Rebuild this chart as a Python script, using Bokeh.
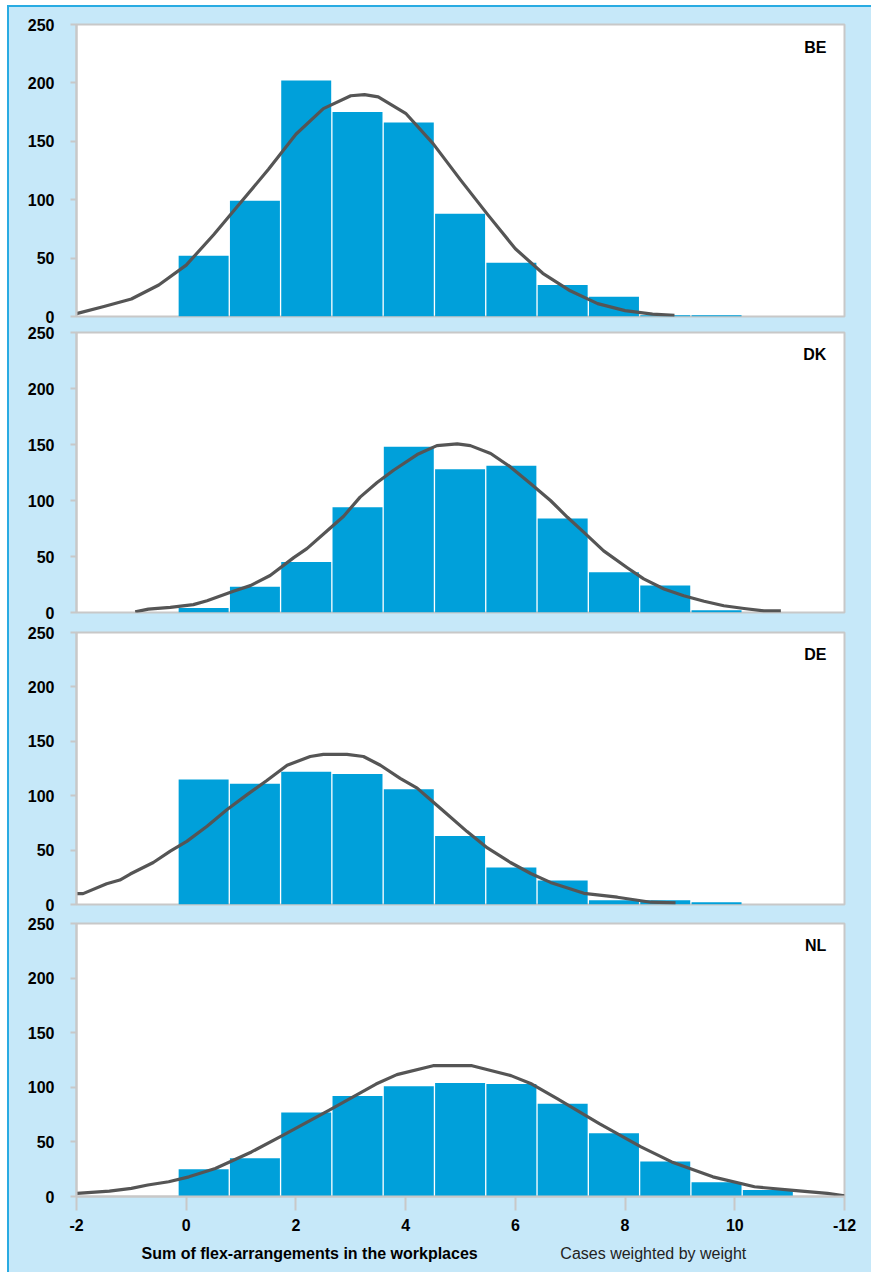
from bokeh.plotting import figure
from bokeh.layouts import column
from bokeh.models import FixedTicker, Label, Range1d
from bokeh.core.properties import value
from bokeh.embed import file_html
from bokeh.resources import INLINE

# ---------------- data ----------------
countries = ["BE", "DK", "DE", "NL"]

bin_start = -0.15
bin_width = 0.935

be_counts = [52, 99, 202, 175, 166, 88, 46, 27, 17, 1, 1]
dk_counts = [4, 23, 45, 94, 148, 128, 131, 84, 36, 24, 2]
de_counts = [115, 111, 122, 120, 106, 63, 34, 22, 4, 4, 2]
nl_counts = [25, 35, 77, 92, 101, 104, 103, 85, 58, 32, 13, 6]

be_curve_x = [-2.0, -1.5, -1.0, -0.5, 0.0, 0.5, 1.0, 1.5, 2.0, 2.5, 3.0, 3.25, 3.5,
              4.0, 4.5, 5.0, 5.5, 6.0, 6.5, 7.0, 7.5, 8.0, 8.5, 8.9]
be_curve_y = [2.5, 8.5, 15, 27, 44, 70, 98, 126, 156, 178, 189, 190, 188,
              174, 148, 117, 87, 58, 37, 22, 11, 5, 2, 1]

dk_curve_x = [-0.93, -0.69, -0.29, 0.13, 0.38, 0.86, 1.17, 1.53, 1.96, 2.2, 2.57, 2.87,
              3.17, 3.48, 3.78, 4.21, 4.57, 4.94, 5.18, 5.55, 5.91, 6.28, 6.64, 6.95,
              7.25, 7.61, 8.04, 8.34, 8.71, 9.07, 9.44, 9.8, 10.17, 10.53, 10.84]
dk_curve_y = [0.6, 3, 4.5, 7, 10.5, 19, 24, 33, 49, 57, 73, 86,
              103, 116, 127, 141, 149, 150.5, 149, 142, 130, 115, 100, 85,
              71.5, 55, 40, 30, 21, 15, 10, 6, 3.6, 1.5, 1.5]

de_curve_x = [-2.0, -1.88, -1.45, -1.21, -1.02, -0.6, -0.29, 0.01, 0.38, 0.74, 1.11,
              1.47, 1.84, 2.26, 2.5, 2.93, 3.23, 3.54, 3.9, 4.21, 4.39, 4.69, 5.12,
              5.49, 5.91, 6.28, 6.64, 7.25, 7.86, 8.47, 8.92]
de_curve_y = [10, 10, 19, 22.5, 28, 38.6, 49, 58, 72, 87, 101,
              114, 128, 136, 138, 138, 136, 128, 116, 107, 99, 86, 67,
              52, 38.6, 28.5, 20.3, 10.3, 6.7, 2.1, 1.5]

nl_curve_x = [-1.99, -1.4, -1.0, -0.7, -0.32, 0.05, 0.53, 1.19, 1.76, 2.6, 3.46, 3.84,
              4.5, 5.21, 5.92, 6.3, 6.77, 7.53, 8.29, 8.85, 9.6, 10.36, 11.12, 11.69, 12.0]
nl_curve_y = [2.9, 5, 7.5, 10.5, 13.5, 18, 25.7, 40.8, 56, 78.8, 103, 111.6,
              119.8, 119.8, 110.7, 103, 89.4, 66.7, 45.4, 31.7, 18, 8.9, 5.3, 2.9, 0.7]

counts = [be_counts, dk_counts, de_counts, nl_counts]
curves_x = [be_curve_x, dk_curve_x, de_curve_x, nl_curve_x]
curves_y = [be_curve_y, dk_curve_y, de_curve_y, nl_curve_y]

x_ticks = [-2, 0, 2, 4, 6, 8, 10, 12]
x_tick_labels = ["-2", "0", "2", "4", "6", "8", "10", "-12"]
y_ticks = [0, 50, 100, 150, 200, 250]

x_title = "Sum of flex-arrangements in the workplaces"
weight_note = "Cases weighted by weight"

# ---------------- style ----------------
LIGHT_BG = "#c6e8f9"
EDGE_BLUE = "#29abe2"
BAR_BLUE = "#00a0da"
CURVE = "#555555"
GRID_GREY = "#c8c8c8"
FONT = "Liberation Sans"

FRAME_W = 768
BORDER_L = 67
BORDER_R = 27
frame_h = [292, 280, 272, 273]
tops = [17, 8, 10, 10]
bottoms = [8, 10, 9, 42]

figs = []
for i, c in enumerate(countries):
    last = i == len(countries) - 1
    p = figure(frame_width=FRAME_W, frame_height=frame_h[i],
               x_range=Range1d(-2, 12), y_range=Range1d(0, 250),
               output_backend="svg", toolbar_location=None,
               min_border_left=BORDER_L, min_border_right=BORDER_R,
               min_border_top=tops[i], min_border_bottom=bottoms[i])
    p.background_fill_color = "white"
    p.border_fill_color = LIGHT_BG
    p.outline_line_color = GRID_GREY
    p.outline_line_width = 2
    p.xgrid.visible = False
    p.ygrid.visible = False

    n = len(counts[i])
    lefts = [bin_start + k * bin_width for k in range(n)]
    rights = [bin_start + (k + 1) * bin_width for k in range(n)]
    gap = 0.012
    p.quad(left=[l + gap for l in lefts], right=[r - gap for r in rights],
           bottom=0, top=counts[i], fill_color=BAR_BLUE, line_color=None)

    p.line(curves_x[i], curves_y[i], line_color=CURVE, line_width=3.2,
           line_join="round")

    p.add_layout(Label(x=11.67, y=230, text=c, text_align="right",
                       text_baseline="middle", text_font=FONT,
                       text_font_size="16px", text_font_style="bold",
                       text_color="black"))

    ya = p.yaxis[0]
    ya.ticker = FixedTicker(ticks=y_ticks)
    ya.axis_line_color = GRID_GREY
    ya.axis_line_width = 2
    ya.major_tick_line_color = GRID_GREY
    ya.major_tick_line_width = 2
    ya.major_tick_out = 6
    ya.major_tick_in = 0
    ya.minor_tick_line_color = None
    ya.major_label_standoff = 16
    ya.major_label_text_font = FONT
    ya.major_label_text_font_size = "16px"
    ya.major_label_text_font_style = "bold"
    ya.major_label_text_color = "black"

    xa = p.xaxis[0]
    if last:
        xa.ticker = FixedTicker(ticks=x_ticks)
        xa.major_label_overrides = {t: lab for t, lab in zip(x_ticks, x_tick_labels)}
        xa.axis_line_color = GRID_GREY
        xa.axis_line_width = 2
        xa.major_tick_line_color = GRID_GREY
        xa.major_tick_line_width = 2
        xa.major_tick_out = 14
        xa.major_tick_in = 0
        xa.minor_tick_line_color = None
        xa.major_label_standoff = 8
        xa.major_label_text_font = FONT
        xa.major_label_text_font_size = "16px"
        xa.major_label_text_font_style = "bold"
        xa.major_label_text_color = "black"
    else:
        xa.visible = False
    figs.append(p)

# footer strip holding the x-axis title and the weighting note
foot = figure(frame_width=FRAME_W, frame_height=34,
              x_range=Range1d(-2, 12), y_range=Range1d(0, 1),
              output_backend="svg", toolbar_location=None,
              min_border_left=BORDER_L, min_border_right=BORDER_R,
              min_border_top=0, min_border_bottom=0)
foot.background_fill_color = LIGHT_BG
foot.border_fill_color = LIGHT_BG
foot.outline_line_color = None
foot.xaxis.visible = False
foot.yaxis.visible = False
foot.xgrid.visible = False
foot.ygrid.visible = False
foot.text(x=[2.25], y=[0.56], text=[x_title], text_align="center",
          text_baseline="middle", text_font=value(FONT),
          text_font_size="16px", text_font_style="bold", text_color="black")
foot.text(x=[6.82], y=[0.56], text=[weight_note], text_align="left",
          text_baseline="middle", text_font=value(FONT),
          text_font_size="16px", text_color="#222222")
figs.append(foot)

layout = column(*figs, spacing=0,
                styles={"background-color": LIGHT_BG,
                        "margin-left": "7px", "margin-top": "5px",
                        "border-top": f"2px solid {EDGE_BLUE}",
                        "border-left": f"2px solid {EDGE_BLUE}"})

open("out.html", "w").write(file_html(layout, INLINE))
